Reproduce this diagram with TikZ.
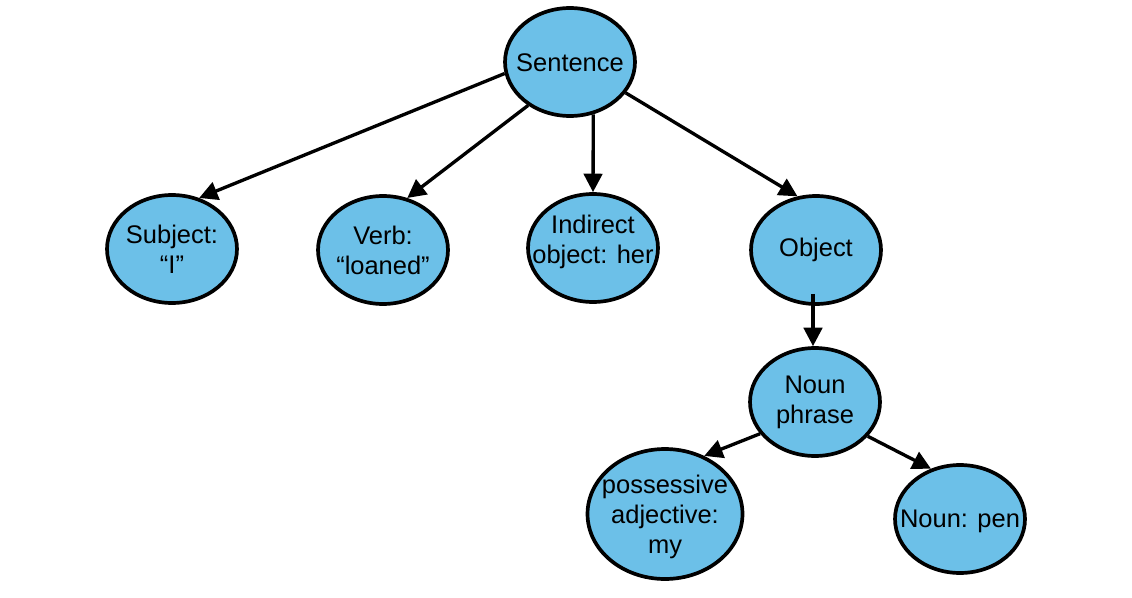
\documentclass[tikz,border=0pt]{standalone}
\usepackage{fontspec}
\setmainfont{Liberation Sans}
\usetikzlibrary{arrows.meta,shapes.geometric,calc}
\definecolor{bubble}{RGB}{108,192,232}
\begin{document}
\begin{tikzpicture}[x=0.02cm,y=-0.02cm,
  bub/.style={ellipse,draw=black,line width=2.1pt,fill=bubble,inner sep=0pt,
    minimum width=2.6cm,minimum height=2.16cm},
  bigbub/.style={bub,minimum width=3.1cm,minimum height=2.6cm},
  txt/.style={align=center,inner sep=0pt,font=\fontsize{14.5}{17}\selectfont},
  arr/.style={line width=1.9pt,-{Triangle[length=10.5pt,width=10.5pt]}}]
\useasboundingbox (0,0) rectangle (1132,598);
\node[bub] (s) at (570,62) {};
\node[txt] (st) at ($(s)+(0,1)$) {Sentence};
\node[bub] (subj) at (172,249) {};
\node[txt] (subjt) at (subj) {Subject:\\“I”};
\node[bub] (verb) at (383,250) {};
\node[txt] (verbt) at (verb) {Verb:\\“loaned”};
\node[bub] (ind) at (593,248) {};
\node[txt] (indt) at ($(ind)+(0,-6)$) {Indirect\\object: her};
\node[bub] (obj) at (816,250) {};
\node[txt] (objt) at (obj) {Object};
\node[bub] (np) at (815,402) {};
\node[txt] (npt) at (np) {Noun\\phrase};
\node[bigbub] (poss) at (665,514) {};
\node[txt] (posst) at ($(poss)+(0,3)$) {possessive\\adjective:\\my};
\node[bub] (pen) at (960,519) {};
\node[txt] (pent) at ($(pen)+(0,2)$) {Noun: pen};
\draw[arr] (s.190) -- (subj.62);
\draw[arr] (s.226) -- (verb.65);
\draw[arr] (s.294) -- (ind.north);
\draw[arr] (s.331) -- (obj.109);
\draw[arr] ($(obj.south)+(-3,-12)$) -- ($(np.north)+(-2,0)$);
\draw[arr] (np.210) -- (poss.56);
\draw[arr] (np.327) -- (pen.120);
\end{tikzpicture}
\end{document}
